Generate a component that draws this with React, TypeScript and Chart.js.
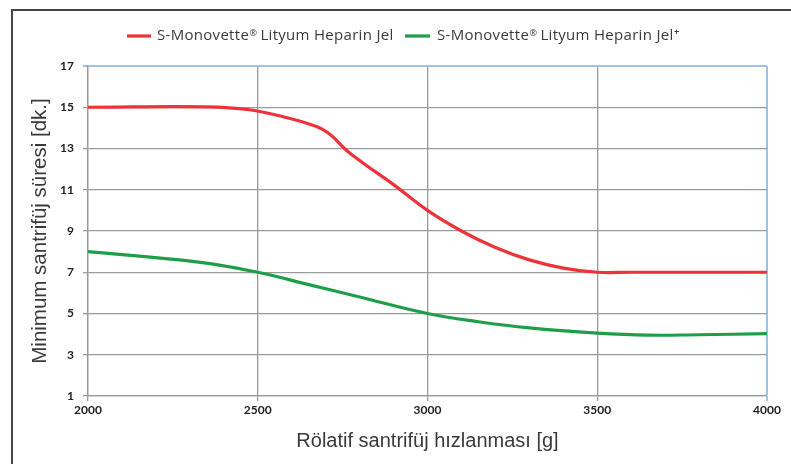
import React, { useEffect, useRef } from "react";
import { Chart, registerables } from "chart.js";

Chart.register(...registerables);

const seriesNames = ["S-Monovette® Lityum Heparin Jel", "S-Monovette® Lityum Heparin Jel+"];
const xTicks = [2000, 2500, 3000, 3500, 4000];
const yTicks = [1, 3, 5, 7, 9, 11, 13, 15, 17];

const redX = [2000, 2350, 2475, 2575, 2675, 2715, 2760, 2810, 2900, 3000, 3100, 3200, 3300, 3400, 3500, 3600, 4000];
const redY = [15, 15.02, 14.88, 14.54, 14.05, 13.65, 12.93, 12.3, 11.25, 10.0, 9.0, 8.2, 7.6, 7.2, 7.0, 7.0, 7.0];
const greenX = [2000, 2320, 2500, 2650, 2800, 3000, 3150, 3300, 3500, 3650, 3800, 4000];
const greenY = [8, 7.5, 7.0, 6.4, 5.8, 5.0, 4.6, 4.3, 4.05, 3.95, 3.97, 4.02];

const RED = "#EE3239";
const GREEN = "#1E9E48";
const GRID = "#9a9a9a";
const BLUE = "#9DC3E6";
const TEXT = "#3a3a3a";
const LEGEND_FONT = "'Open Sans', 'Liberation Sans', Arial, sans-serif";

const legendPlugin = {
  id: "customLegend",
  afterDraw(chart: any) {
    const ctx = chart.ctx;
    ctx.save();
    const y = 36;
    const items = [
      { color: RED, x0: 127, x1: 151, tx: 157, sup: "" },
      { color: GREEN, x0: 405, x1: 430, tx: 437, sup: "+" },
    ];
    items.forEach((it) => {
      ctx.strokeStyle = it.color;
      ctx.lineWidth = 3.2;
      ctx.beginPath();
      ctx.moveTo(it.x0, y);
      ctx.lineTo(it.x1, y);
      ctx.stroke();
      ctx.fillStyle = TEXT;
      ctx.textBaseline = "middle";
      ctx.textAlign = "left";
      (ctx as any).letterSpacing = "0.3px";
      let x = it.tx;
      ctx.font = `15px ${LEGEND_FONT}`;
      const a = "S-Monovette";
      ctx.fillText(a, x, y);
      x += ctx.measureText(a).width + 0.5;
      ctx.font = `9px ${LEGEND_FONT}`;
      ctx.fillText("®", x, y - 3);
      x += ctx.measureText("®").width + 3;
      ctx.font = `15px ${LEGEND_FONT}`;
      const b = "Lityum Heparin Jel";
      ctx.fillText(b, x, y);
      x += ctx.measureText(b).width + 0.5;
      if (it.sup) {
        ctx.font = `bold 9px ${LEGEND_FONT}`;
        ctx.fillText(it.sup, x, y - 4);
      }
    });
    ctx.restore();
  },
};

export default function App() {
  const ref = useRef<HTMLCanvasElement | null>(null);
  useEffect(() => {
    document.body.style.margin = "0";
    if (!ref.current) return;
    const chart = new Chart(ref.current, {
      type: "line",
      data: {
        datasets: [
          {
            label: seriesNames[0],
            data: redX.map((x, i) => ({ x, y: redY[i] })),
            borderColor: RED,
            borderWidth: 3.2,
            pointRadius: 0,
            tension: 0.4,
            fill: false,
          },
          {
            label: seriesNames[1],
            data: greenX.map((x, i) => ({ x, y: greenY[i] })),
            borderColor: GREEN,
            borderWidth: 3.2,
            pointRadius: 0,
            tension: 0.4,
            fill: false,
          },
        ],
      },
      options: {
        animation: false,
        responsive: false,
        maintainAspectRatio: false,
        layout: { padding: { top: 66, left: 14, right: 24, bottom: 11 } },
        plugins: { legend: { display: false }, tooltip: { enabled: false } },
        scales: {
          x: {
            type: "linear",
            min: 2000,
            max: 4000,
            afterBuildTicks: (s: any) => {
              s.ticks = xTicks.map((v) => ({ value: v }));
            },
            afterFit: (s: any) => {
              s.height = 57;
            },
            ticks: {
              color: "#222",
              font: { family: "Lato", size: 12, weight: "bold" },
              padding: 2,
              maxRotation: 0,
              callback: (v: any) => String(v),
            },
            grid: {
              color: (c: any) => (c.tick && c.tick.value === 4000 ? BLUE : GRID),
              lineWidth: (c: any) => (c.tick && c.tick.value === 4000 ? 2 : 1.3),
              tickLength: 5,
            },
            border: { color: GRID, width: 1.3 },
            title: {
              display: true,
              text: "Rölatif santrifüj hızlanması [g]",
              color: TEXT,
              font: { family: "'Liberation Sans', Arial, sans-serif", size: 20 },
              padding: { top: 6, bottom: 0 },
            },
          },
          y: {
            min: 1,
            max: 17,
            afterBuildTicks: (s: any) => {
              s.ticks = yTicks.map((v) => ({ value: v }));
            },
            afterFit: (s: any) => {
              s.width = 74;
            },
            ticks: {
              color: "#222",
              font: { family: "Lato", size: 12, weight: "bold" },
              padding: 9,
            },
            grid: {
              color: (c: any) => (c.tick && c.tick.value === 17 ? BLUE : GRID),
              lineWidth: (c: any) => (c.tick && c.tick.value === 17 ? 2 : 1.3),
              tickLength: 5,
            },
            border: { color: GRID, width: 1.3 },
            title: {
              display: true,
              text: "Minimum santrifüj süresi [dk.]",
              color: TEXT,
              font: { family: "'Liberation Sans', Arial, sans-serif", size: 20.5 },
              padding: { top: 14, bottom: 0 },
            },
          },
        },
      },
      plugins: [legendPlugin],
    } as any);
    return () => chart.destroy();
  }, []);
  return (
    <div style={{ position: "relative", width: 791, height: 464, background: "#fff", overflow: "hidden" }}>
      <div
        style={{
          position: "absolute",
          left: 11,
          top: 9,
          width: 800,
          height: 480,
          border: "2px solid #444",
          boxSizing: "border-box",
        }}
      />
      <canvas ref={ref} width={791} height={464} style={{ position: "absolute", left: 0, top: 0, display: "block" }} />
    </div>
  );
}
